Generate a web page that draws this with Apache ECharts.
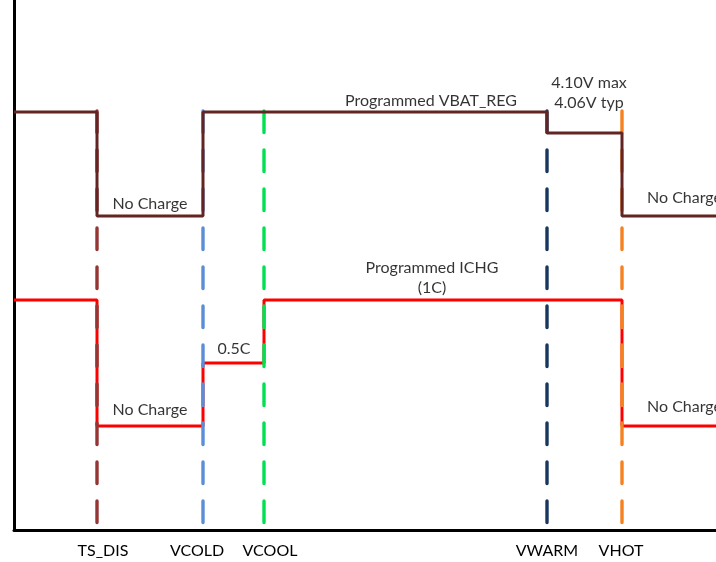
<!DOCTYPE html>
<html><head><meta charset="utf-8">
<script src="https://cdn.jsdelivr.net/npm/echarts@6/dist/echarts.min.js"></script>
<style>html,body{margin:0;padding:0;background:#fff}#c{width:716px;height:562px}</style>
</head><body><div id="c"></div>
<script>
// Threshold positions along the temperature axis (arbitrary units)
const thresholdNames = ['TS_DIS', 'VCOLD', 'VCOOL', 'VWARM', 'VHOT'];
const thresholdX = [83, 189, 250, 533, 608];
const tickLabelX = [89, 183, 256, 533, 607];
const thresholdColors = ['#943634', '#5B8ED6', '#00E050', '#17375E', '#F58220'];
const xMax = 702;
const yMax = 530;
const dashTop = 419;

// Step profiles (x, level)
const vbatX = [0, 83, 83, 189, 189, 533, 533, 608, 608, 702];
const vbatY = [418, 418, 314, 314, 418, 418, 397, 397, 314, 314];
const ichgX = [0, 83, 83, 189, 189, 250, 250, 608, 608, 702];
const ichgY = [230, 230, 104, 104, 167, 167, 230, 230, 104, 104];

// Annotations
const noteText = ['No Charge', 'No Charge', '0.5C', 'Programmed VBAT_REG', '4.10V max', '4.06V typ', 'Programmed ICHG', '(1C)', 'No Charge', 'No Charge'];
const noteX = [136, 136, 220, 417, 575, 575, 418, 418, 633, 633];
const noteY = [326, 120, 181, 429, 447, 427, 262, 242, 332, 123];
const noteAlign = ['center', 'center', 'center', 'center', 'center', 'center', 'center', 'center', 'left', 'left'];

const FONT = 'Lato, "Open Sans", sans-serif';
const chart = echarts.init(document.getElementById('c'), null, { renderer: 'canvas' });

const zip = (xs, ys) => xs.map((x, i) => [x, ys[i]]);

const series = [];
series.push({
  type: 'line', data: zip(ichgX, ichgY), showSymbol: false, symbol: 'none', z: 1, clip: false,
  lineStyle: { color: '#FF0000', width: 3 }, animation: false
});
thresholdX.forEach((x, i) => {
  series.push({
    type: 'line', data: [[x, dashTop], [x, 0]], showSymbol: false, symbol: 'none', z: 2, clip: false,
    lineStyle: { color: thresholdColors[i], width: 3.4, type: [21.5, 17.5], cap: 'round' }, animation: false
  });
});
series.push({
  type: 'line', data: zip(vbatX, vbatY), showSymbol: false, symbol: 'none', z: 3, clip: false,
  lineStyle: { color: '#632523', width: 3 }, animation: false
});
series.push({
  type: 'scatter', symbolSize: 0, z: 4, animation: false,
  data: noteText.map((t, i) => ({
    value: [noteX[i], noteY[i]], name: t,
    label: { align: noteAlign[i] }
  })),
  label: {
    show: true, position: 'inside', formatter: p => p.name,
    color: '#000', fontSize: 16, fontFamily: FONT, verticalAlign: 'middle'
  }
});

chart.setOption({
  animation: false,
  grid: { left: 14, right: 0, top: 0, bottom: 32, containLabel: false },
  xAxis: {
    type: 'value', min: 0, max: xMax,
    axisLine: { show: true, lineStyle: { color: '#000', width: 3 } },
    axisTick: { show: false }, splitLine: { show: false },
    axisLabel: {
      customValues: tickLabelX,
      formatter: v => thresholdNames[tickLabelX.indexOf(v)] || '',
      color: '#000', fontSize: 16, fontFamily: FONT, margin: 13
    }
  },
  yAxis: {
    type: 'value', min: 0, max: yMax,
    axisLine: { show: true, lineStyle: { color: '#000', width: 3 } },
    axisTick: { show: false }, splitLine: { show: false }, axisLabel: { show: false }
  },
  series
});
</script></body></html>
